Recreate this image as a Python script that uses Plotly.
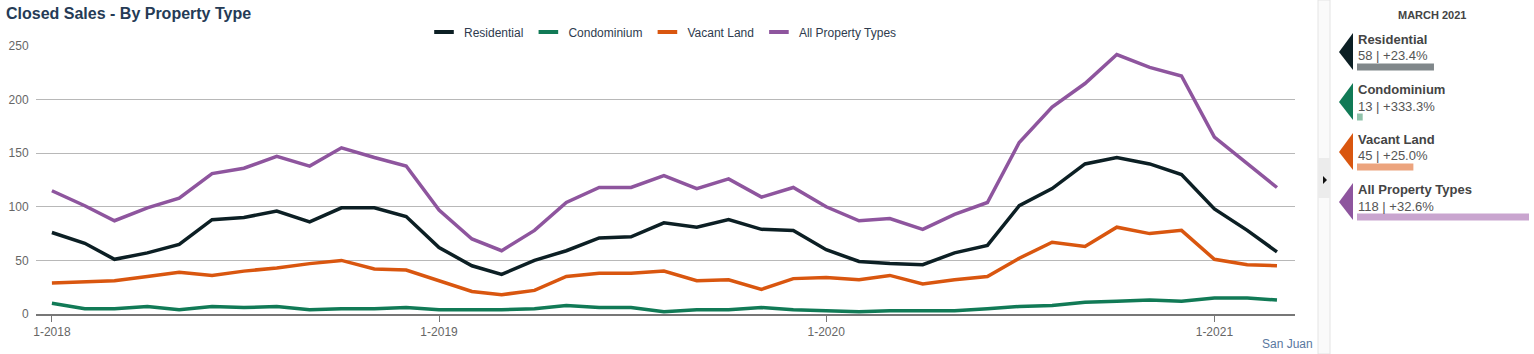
import plotly.graph_objects as go

W, H = 1534, 354

months = [f"{y}-{m:02d}-01" for y in (2018, 2019, 2020) for m in range(1, 13)] + ["2021-01-01", "2021-02-01", "2021-03-01"]

residential = [76, 66, 51, 57, 65, 88, 90, 96, 86, 99, 99, 91,
               62, 45, 37, 50, 59, 71, 72, 85, 81, 88, 79, 78,
               60, 49, 47, 46, 57, 64, 101, 117, 140, 146, 140, 130,
               98, 78, 58]
condominium = [10, 5, 5, 7, 4, 7, 6, 7, 4, 5, 5, 6,
               4, 4, 4, 5, 8, 6, 6, 2, 4, 4, 6, 4,
               3, 2, 3, 3, 3, 5, 7, 8, 11, 12, 13, 12,
               15, 15, 13]
vacant_land = [29, 30, 31, 35, 39, 36, 40, 43, 47, 50, 42, 41,
               31, 21, 18, 22, 35, 38, 38, 40, 31, 32, 23, 33,
               34, 32, 36, 28, 32, 35, 52, 67, 63, 81, 75, 78,
               51, 46, 45]
all_types = [115, 101, 87, 99, 108, 131, 136, 147, 138, 155, 146, 138,
             97, 70, 59, 78, 104, 118, 118, 129, 117, 126, 109, 118,
             100, 87, 89, 79, 93, 104, 160, 193, 215, 242, 230, 222,
             165, 140, 118]

series_names = ["Residential", "Condominium", "Vacant Land", "All Property Types"]
series_values = [residential, condominium, vacant_land, all_types]
line_colors = ["#0c1f24", "#117a56", "#d9560f", "#8e559e"]
bar_colors = ["#80878a", "#8fc2aa", "#eca47e", "#c9a5cf"]
pct_changes = ["+23.4%", "+333.3%", "+25.0%", "+32.6%"]
tick_dates = ["2018-01-01", "2019-01-01", "2020-01-01", "2021-01-01"]
tick_labels = ["1-2018", "1-2019", "1-2020", "1-2021"]
y_ticks = [0, 50, 100, 150, 200, 250]
panel_title = "MARCH 2021"
region = "San Juan"

FONT = "Liberation Sans, Arial, sans-serif"

def px(x):
    return x / W

def py(y):
    return 1 - y / H

fig = go.Figure()
for name, vals, col in zip(series_names, series_values, line_colors):
    fig.add_trace(go.Scatter(x=months, y=vals, name=name, mode="lines", showlegend=False,
                             line=dict(color=col, width=3.5), hoverinfo="x+y+name"))
# legend entries (short thick line symbols)
for name, col in zip(series_names, line_colors):
    fig.add_trace(go.Scatter(x=[None], y=[None], name=name, mode="markers", showlegend=True,
                             marker=dict(symbol="line-ew", size=14, color=col,
                                         line=dict(width=4, color=col)),
                             hoverinfo="skip"))

# right panel bars
last_vals = [v[-1] for v in series_values]
fig.add_trace(go.Bar(x=last_vals, y=list(range(4)), orientation="h",
                     marker=dict(color=bar_colors, line=dict(width=0)),
                     width=0.14, xaxis="x2", yaxis="y2", showlegend=False,
                     hoverinfo="skip"))

shapes = []
annotations = []

# side strip
shapes.append(dict(type="rect", xref="paper", yref="paper", x0=px(1318), x1=px(1330), y0=0, y1=1,
                   fillcolor="#fafafa", line=dict(color="#e4e4e4", width=1), layer="below"))
shapes.append(dict(type="rect", xref="paper", yref="paper", x0=px(1318), x1=px(1330), y0=py(198), y1=py(158),
                   fillcolor="#ececec", line=dict(width=0), layer="below"))
shapes.append(dict(type="path", xref="paper", yref="paper",
                   path=f"M {px(1323)} {py(176)} L {px(1327)} {py(180)} L {px(1323)} {py(184)} Z",
                   fillcolor="#111", line=dict(width=0)))

for k, (name, col) in enumerate(zip(series_names, line_colors)):
    top, bot, tip = 33 + 50 * k, 70 + 50 * k, 52 + 50 * k
    shapes.append(dict(type="path", xref="paper", yref="paper",
                       path=f"M {px(1339)} {py(tip)} L {px(1353)} {py(top)} L {px(1353)} {py(bot)} Z",
                       fillcolor=col, line=dict(width=0)))
    annotations.append(dict(text=f"<b>{name}</b>", xref="paper", yref="paper", x=px(1356), y=py(39 + 50 * k),
                            xanchor="left", yanchor="middle", showarrow=False,
                            font=dict(family=FONT, size=13, color="#444")))
    annotations.append(dict(text=f"{last_vals[k]} | {pct_changes[k]}", xref="paper", yref="paper",
                            x=px(1356), y=py(56 + 50 * k), xanchor="left", yanchor="middle", showarrow=False,
                            font=dict(family=FONT, size=13, color="#555")))

annotations.append(dict(text=f"<b>{panel_title}</b>", xref="paper", yref="paper", x=px(1432), y=py(15),
                        xanchor="center", yanchor="middle", showarrow=False,
                        font=dict(family=FONT, size=11, color="#444")))
annotations.append(dict(text="<b>Closed Sales - By Property Type</b>", xref="paper", yref="paper",
                        x=px(4), y=py(13), xanchor="left", yanchor="middle", showarrow=False,
                        font=dict(family=FONT, size=16, color="#253b56")))
annotations.append(dict(text=region, xref="paper", yref="paper", x=px(1315), y=py(344),
                        xanchor="right", yanchor="middle", showarrow=False,
                        font=dict(family=FONT, size=12, color="#5a78a0")))

fig.update_layout(
    width=W, height=H, margin=dict(l=0, r=0, t=0, b=0, autoexpand=False),
    paper_bgcolor="white", plot_bgcolor="white",
    font=dict(family=FONT, size=12, color="#555"),
    showlegend=True,
    legend=dict(orientation="h", x=px(663), xanchor="center", y=py(32), yanchor="middle",
                font=dict(family=FONT, size=12, color="#2e3b4e"), itemwidth=30,
                bgcolor="rgba(0,0,0,0)", tracegroupgap=0),
    xaxis=dict(domain=[px(36), px(1295)], type="date", range=["2017-12-17", "2021-03-18"],
               tickvals=tick_dates, ticktext=tick_labels, showgrid=False, zeroline=False,
               showline=True, linecolor="#777", linewidth=2, ticks="outside", ticklen=6,
               tickcolor="#777", tickwidth=1, tickfont=dict(size=12, color="#666"), automargin=False),
    yaxis=dict(domain=[py(314), py(46)], range=[0, 250], tickvals=y_ticks, showgrid=True,
               gridcolor="#b8b8b8", gridwidth=1, zeroline=False, showline=False, automargin=False,
               ticks="outside", ticklen=4, tickcolor="rgba(0,0,0,0)", tickfont=dict(size=12, color="#666")),
    xaxis2=dict(domain=[px(1357), px(1529)], range=[9.4, 118], visible=False, fixedrange=True),
    yaxis2=dict(domain=[py(242), py(42)], range=[3.5, -0.5], visible=False, fixedrange=True),
    shapes=shapes, annotations=annotations,
)

fig.write_html("out.html")
